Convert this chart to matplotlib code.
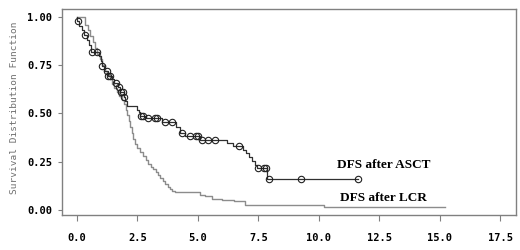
import matplotlib
matplotlib.use("Agg")
import matplotlib.pyplot as plt
import numpy as np

# DFS after ASCT (Kaplan-Meier steps)
asct_t = [0, 0.02, 0.1, 0.2, 0.3, 0.42, 0.5, 0.58, 0.9, 0.98, 1.02, 1.12, 1.27, 1.45,
          1.55, 1.68, 1.78, 1.94, 2.0, 2.06, 2.47, 2.55, 2.62, 2.85, 3.5, 4.1, 4.25,
          4.45, 5.1, 6.2, 6.45, 6.85, 6.98, 7.1, 7.22, 7.35, 7.45, 7.85, 11.63]
asct_s = [1.0, 0.98, 0.955, 0.93, 0.905, 0.88, 0.855, 0.82, 0.795, 0.77, 0.745, 0.72,
          0.695, 0.68, 0.66, 0.635, 0.61, 0.587, 0.565, 0.54, 0.52, 0.505, 0.487,
          0.475, 0.455, 0.43, 0.40, 0.383, 0.36, 0.345, 0.333, 0.313, 0.293, 0.273,
          0.253, 0.233, 0.215, 0.16, 0.16]
asct_cens = [0.03, 0.34, 0.62, 0.82, 1.04, 1.24, 1.3, 1.36, 1.6, 1.72, 1.82, 1.9, 1.96,
             2.64, 2.75, 2.95, 3.24, 3.32, 3.66, 3.94, 4.33, 4.67, 4.94, 5.0, 5.18,
             5.43, 5.7, 6.68, 7.49, 7.75, 7.8, 7.93, 9.28, 11.63]

# DFS after LCR
lcr_t = [0, 0.35, 0.45, 0.55, 0.65, 0.75, 0.85, 0.95, 1.05, 1.15, 1.25, 1.35, 1.45, 1.55,
         1.65, 1.75, 1.85, 1.95, 2.02, 2.08, 2.14, 2.2, 2.26, 2.32, 2.4, 2.47, 2.6, 2.75,
         2.85, 2.95, 3.05, 3.15, 3.25, 3.35, 3.45, 3.55, 3.65, 3.75, 3.85, 3.95, 4.05,
         5.1, 5.3, 5.6, 6.0, 6.5, 6.95, 10.2, 15.2]
lcr_s = [1.0, 0.96, 0.93, 0.90, 0.87, 0.84, 0.81, 0.78, 0.75, 0.72, 0.70, 0.68, 0.65,
         0.63, 0.61, 0.59, 0.57, 0.55, 0.52, 0.49, 0.46, 0.43, 0.40, 0.37, 0.34, 0.32,
         0.30, 0.28, 0.26, 0.24, 0.225, 0.21, 0.195, 0.18, 0.165, 0.15, 0.135, 0.12,
         0.11, 0.10, 0.095, 0.08, 0.07, 0.055, 0.05, 0.045, 0.026, 0.017, 0.017]

xticks = [0.0, 2.5, 5.0, 7.5, 10.0, 12.5, 15.0, 17.5]
yticks = [0.0, 0.25, 0.5, 0.75, 1.0]

fig = plt.figure(figsize=(5.2, 2.5), dpi=100)
ax = fig.add_axes([0.119, 0.14, 0.873, 0.824])

ax.plot(lcr_t, lcr_s, drawstyle="steps-post", color="#8c8c8c", lw=1.0)
ax.plot(asct_t, asct_s, drawstyle="steps-post", color="#303030", lw=0.9)

# censor marks sit on the step curve
idx = np.searchsorted(asct_t, asct_cens, side="right") - 1
cens_s = np.array(asct_s)[idx]
ax.plot(asct_cens, cens_s, "o", mfc="none", mec="#202020", ms=4.6, mew=0.8)

ax.text(12.7, 0.232, "DFS after ASCT", family="Liberation Serif", weight="bold",
        fontsize=9.5, ha="center", va="center")
ax.text(12.65, 0.062, "DFS after LCR", family="Liberation Serif", weight="bold",
        fontsize=9.5, ha="center", va="center")

ax.set_xlim(-0.62, 18.14)
ax.set_ylim(-0.026, 1.041)
ax.set_xticks(xticks)
ax.set_xticklabels(["%.1f" % v for v in xticks])
ax.set_yticks(yticks)
ax.set_yticklabels(["%.2f" % v for v in yticks])

for lab in ax.get_xticklabels() + ax.get_yticklabels():
    lab.set_family("DejaVu Sans Mono")
    lab.set_weight("bold")
    lab.set_fontsize(7.5)

ax.tick_params(axis="x", direction="out", length=4, width=0.8, color="#808080", pad=9)
ax.tick_params(axis="y", direction="out", length=3, width=0.8, color="#808080", pad=4)
for sp in ax.spines.values():
    sp.set_color("#808080")
    sp.set_linewidth(1.0)

fig.text(0.028, 0.57, "Survival Distribution Function", rotation=90,
         family="DejaVu Sans Mono", fontsize=6.8, color="#707070",
         ha="center", va="center")

fig.savefig("out.png", dpi=100)
